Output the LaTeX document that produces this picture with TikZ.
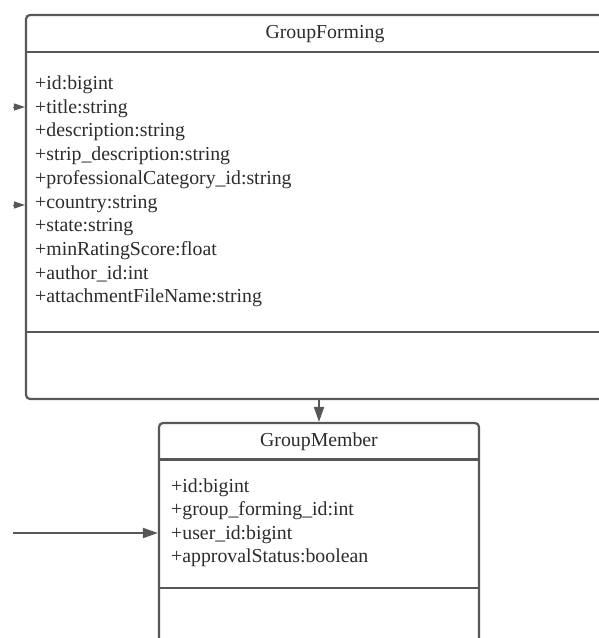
\documentclass[tikz,border=0pt]{standalone}
\usepackage{fontspec}
\setmainfont{Liberation Serif}
\usetikzlibrary{arrows.meta}
\definecolor{edge}{HTML}{575757}
\definecolor{ink}{HTML}{2C2C2C}
\tikzset{
  classbox/.style={draw=edge, line width=2.2pt, rounded corners=4pt, fill=white, inner sep=0pt},
  divider/.style={draw=edge, line width=2.2pt},
  title/.style={text=ink, font=\fontsize{19.8}{23}\selectfont, anchor=base, inner sep=0pt},
  attr/.style={text=ink, font=\fontsize{19.8}{23}\selectfont, anchor=base west, inner sep=0pt},
  assoc/.style={draw=edge, line width=2pt, -{Triangle[length=15pt, width=10pt]}},
  smallhead/.style={draw=edge, line width=1pt, -{Triangle[length=11pt, width=7pt]}},
}
\begin{document}
\begin{tikzpicture}[x=1pt, y=-1pt]
\useasboundingbox (0,0) rectangle (599,638);
\clip (0,0) rectangle (599,638);

% class GroupForming
\node[classbox, minimum width=598pt, minimum height=384pt] (gf) at (325,207) {};
\draw[divider] (gf.west |- 0,52) -- (gf.east |- 0,52);
\draw[divider] (gf.west |- 0,332) -- (gf.east |- 0,332);
\node[title] (gfname) at (325,38.5) {GroupForming};
\foreach \t [count=\i from 0] in {%
  +id:bigint,
  +title:string,
  +description:string,
  +strip\_description:string,
  +professionalCategory\_id:string,
  +country:string,
  +state:string,
  +minRatingScore:float,
  +author\_id:int,
  +attachmentFileName:string}
  \node[attr] (gfa\i) at (35,89.5+23.7*\i) {\t};

% class GroupMember
\node[classbox, minimum width=320pt, minimum height=240pt] (gm) at (319,543) {};
\draw[divider] (gm.west |- 0,459.5) -- (gm.east |- 0,459.5);
\draw[divider] (gm.west |- 0,588) -- (gm.east |- 0,588);
\node[title] (gmname) at (319,446.5) {GroupMember};
\foreach \t [count=\i from 0] in {%
  +id:bigint,
  +group\_forming\_id:int,
  +user\_id:bigint,
  +approvalStatus:boolean}
  \node[attr] (gma\i) at (171,492.5+23.4*\i) {\t};

% connectors
\draw[assoc] (gm.north |- gf.south) -- (gm.north);
\coordinate (userref) at (13,533);
\draw[assoc] (userref) -- (gm.west |- userref);
\coordinate (inA) at (12.5,107);
\coordinate (inB) at (12.5,205);
\draw[smallhead] (inA) -- (gf.west |- inA);
\draw[smallhead] (inB) -- (gf.west |- inB);
\end{tikzpicture}
\end{document}
